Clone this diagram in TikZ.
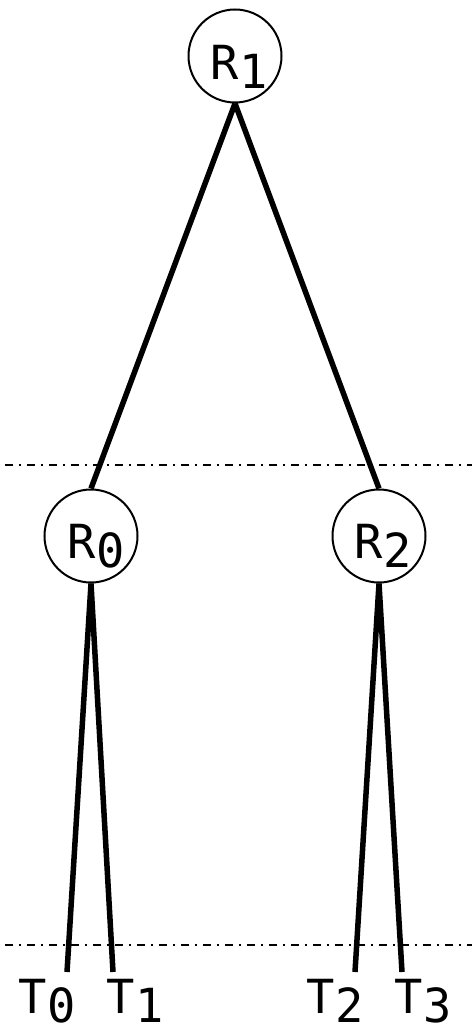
\documentclass[tikz,border=0pt]{standalone}
\usepackage{fontspec}
\newfontfamily\labfont{DejaVu Sans Mono}
\newcommand\lowsub[1]{\raisebox{-9pt}{#1}}
\begin{document}
\begin{tikzpicture}[x=1pt,y=-1pt,
  rnode/.style={circle,draw,line width=2pt,minimum size=93pt,inner sep=0pt},
  txt/.style={anchor=base,inner sep=0pt,font=\labfont\fontsize{47}{47}\selectfont},
  edge/.style={line width=5.5pt},
  level/.style={line width=2pt,dash pattern=on 8pt off 6pt on 2pt off 6pt}]
\useasboundingbox (0,0) rectangle (472,1032);
% level lines
\coordinate (l1a) at (5,465);
\coordinate (l1b) at (472,465);
\coordinate (l2a) at (5,945);
\coordinate (l2b) at (472,945);
\draw[level] (l1a) -- (l1b);
\draw[level] (l2a) -- (l2b);
% router nodes
\node[rnode] (r1) at (235,56) {};
\node[rnode] (r0) at (91,536) {};
\node[rnode] (r2) at (379,536) {};
\node[txt] (r1t) at (239,80) {R\lowsub{1}};
\node[txt] (r0t) at (96,558) {R\lowsub{0}};
\node[txt] (r2t) at (383,558) {R\lowsub{2}};
% terminal ends
\coordinate (t0) at (67,972);
\coordinate (t1) at (113,972);
\coordinate (t2) at (355,972);
\coordinate (t3) at (402,972);
\node[txt] (t0t) at (47,1013) {T\lowsub{0}};
\node[txt] (t1t) at (135,1013) {T\lowsub{1}};
\node[txt] (t2t) at (335,1013) {T\lowsub{2}};
\node[txt] (t3t) at (423,1013) {T\lowsub{3}};
% edges
\draw[edge] (r1.south) -- (r0.north);
\draw[edge] (r1.south) -- (r2.north);
\draw[edge] (r0.south) -- (t0);
\draw[edge] (r0.south) -- (t1);
\draw[edge] (r2.south) -- (t2);
\draw[edge] (r2.south) -- (t3);
\end{tikzpicture}
\end{document}
